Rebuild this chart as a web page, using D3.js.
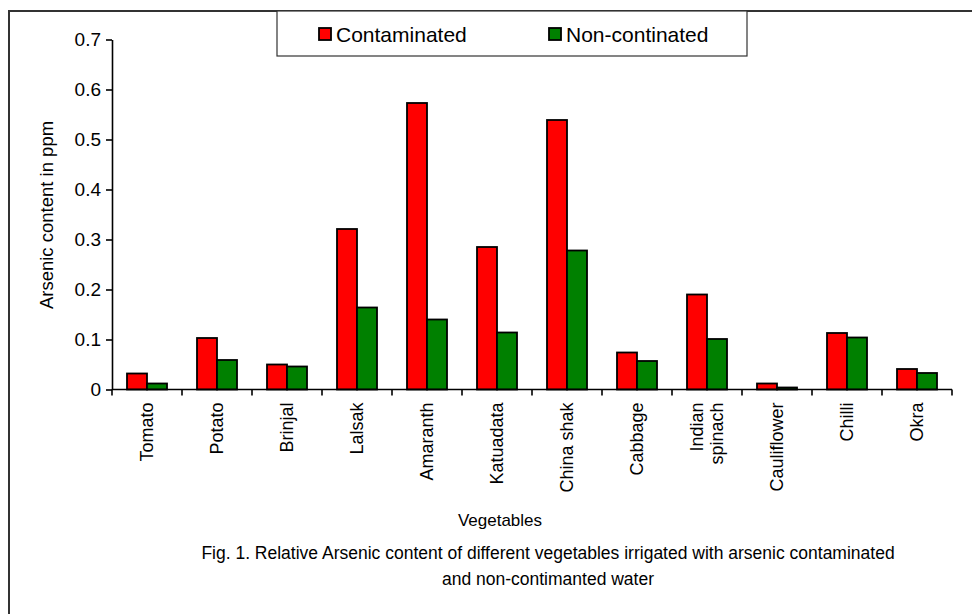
<!DOCTYPE html>
<html>
<head>
<meta charset="utf-8">
<script src="https://cdn.jsdelivr.net/npm/d3@7"></script>
<style>
  html, body { margin: 0; padding: 0; background: #fff; }
  svg { display: block; font-family: "Liberation Sans", Arial, sans-serif; }
</style>
</head>
<body>
<svg id="chart" width="972" height="614"></svg>
<script>
// Vegetables sampled
const categories = ["Tomato", "Potato", "Brinjal", "Lalsak", "Amaranth", "Katuadata",
  "China shak", "Cabbage", "Indian spinach", "Cauliflower", "Chilli", "Okra"];
// Arsenic content (ppm) by irrigation water
const contaminated    = [0.032, 0.103, 0.050, 0.321, 0.573, 0.285, 0.539, 0.074, 0.190, 0.012, 0.113, 0.041];
const nonContaminated = [0.012, 0.059, 0.046, 0.164, 0.140, 0.114, 0.278, 0.057, 0.101, 0.004, 0.104, 0.033];
const seriesNames = ["Contaminated", "Non-continated"];
const seriesColors = ["#ff0000", "#008000"];
const yTicks = [0, 0.1, 0.2, 0.3, 0.4, 0.5, 0.6, 0.7];

const svg = d3.select("#chart");

// outer frame (runs off the right and bottom edges)
svg.append("path")
  .attr("d", "M9,1000 L9,11 L1000,11")
  .attr("fill", "none").attr("stroke", "#333").attr("stroke-width", 2);

const plot = { left: 112, right: 952, top: 39.5, bottom: 389.5 };

const x = d3.scaleBand().domain(categories).range([plot.left, plot.right]).padding(0);
const xs = d3.scaleBand().domain(seriesNames).range([0, x.bandwidth()])
  .paddingInner(0).paddingOuter(0.75);
const y = d3.scaleLinear().domain([0, 0.7]).range([plot.bottom, plot.top]);

const rows = categories.map((c, i) => ({ cat: c, vals: [contaminated[i], nonContaminated[i]] }));

// bars
const groups = svg.append("g").selectAll("g").data(rows).join("g")
  .attr("transform", d => `translate(${x(d.cat)},0)`);
groups.selectAll("rect").data(d => d.vals.map((v, k) => ({ v, k })))
  .join("rect")
  .attr("x", d => xs(seriesNames[d.k]))
  .attr("width", xs.bandwidth())
  .attr("y", d => y(d.v))
  .attr("height", d => y(0) - y(d.v))
  .attr("fill", d => seriesColors[d.k])
  .attr("stroke", "#000").attr("stroke-width", 1.8);

// y axis
const yAxis = svg.append("g").attr("transform", `translate(${plot.left},0)`)
  .call(d3.axisLeft(y).tickValues(yTicks).tickSize(6).tickSizeOuter(0)
    .tickFormat(d => d === 0 ? "0" : d3.format(".1f")(d)));
yAxis.select(".domain").attr("stroke", "#000").attr("stroke-width", 1.6);
yAxis.selectAll(".tick line").attr("stroke", "#000").attr("stroke-width", 1.6);
yAxis.selectAll(".tick text").attr("font-size", 19).attr("fill", "#000")
  .attr("font-family", "Liberation Sans, Arial, sans-serif").attr("x", -11);

// x axis with ticks at band boundaries
const xAxisG = svg.append("g").attr("transform", `translate(0,${plot.bottom})`);
xAxisG.append("line").attr("x1", plot.left).attr("x2", plot.right)
  .attr("stroke", "#000").attr("stroke-width", 1.6);
const boundaries = categories.map(c => x(c)).concat([x(categories[categories.length - 1]) + x.bandwidth()]);
xAxisG.selectAll("line.tk").data(boundaries).join("line").attr("class", "tk")
  .attr("x1", d => d).attr("x2", d => d).attr("y1", 0).attr("y2", 6)
  .attr("stroke", "#000").attr("stroke-width", 1.6);

// rotated category labels
const lbl = xAxisG.selectAll("text.cat").data(categories).join("text").attr("class", "cat")
  .attr("transform", d => `translate(${x(d) + x.bandwidth() / 2},13) rotate(-90)`)
  .attr("text-anchor", "end").attr("font-size", 18).attr("fill", "#000");
lbl.each(function(d) {
  const words = d === "Indian spinach" ? ["Indian", "spinach"] : [d];
  const t = d3.select(this);
  const lh = 20;
  words.forEach((w, i) => {
    t.append("tspan").attr("x", 0)
      .attr("y", (i - (words.length - 1) / 2) * lh)
      .attr("dy", "0.35em").text(w);
  });
});

// axis titles
svg.append("text").attr("transform", "translate(53,215) rotate(-90)")
  .attr("text-anchor", "middle").attr("font-size", 18.5).text("Arsenic content in ppm");
svg.append("text").attr("x", 500).attr("y", 526)
  .attr("text-anchor", "middle").attr("font-size", 17).text("Vegetables");

// caption
svg.append("text").attr("x", 548).attr("y", 559).attr("text-anchor", "middle")
  .attr("font-size", 17.5)
  .text("Fig. 1. Relative Arsenic content of different vegetables irrigated with arsenic contaminated");
svg.append("text").attr("x", 548).attr("y", 585).attr("text-anchor", "middle")
  .attr("font-size", 17.5).text("and non-contimanted water");

// legend
const leg = svg.append("g");
leg.append("rect").attr("x", 277).attr("y", 11).attr("width", 470).attr("height", 45)
  .attr("fill", "#fff").attr("stroke", "#333").attr("stroke-width", 1.2);
const legX = [319, 549];
seriesNames.forEach((s, i) => {
  leg.append("rect").attr("x", legX[i]).attr("y", 28).attr("width", 12).attr("height", 12)
    .attr("fill", seriesColors[i]).attr("stroke", "#000").attr("stroke-width", 1.8);
  leg.append("text").attr("x", legX[i] + 17).attr("y", 41.5)
    .attr("font-size", 21).text(s);
});
</script>
</body>
</html>
